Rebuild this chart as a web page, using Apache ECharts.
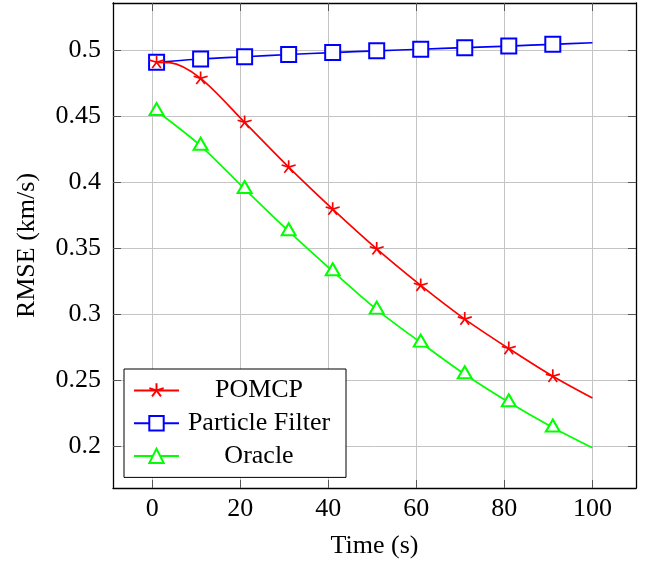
<!DOCTYPE html>
<html><head><meta charset="utf-8">
<script src="https://cdn.jsdelivr.net/npm/echarts@6/dist/echarts.min.js"></script>
<style>html,body{margin:0;padding:0;background:#fff}#c{width:647px;height:561px}</style>
</head><body><div id="c"></div>
<script>
const xTicks = [0, 20, 40, 60, 80, 100];
const yTicks = [0.2, 0.25, 0.3, 0.35, 0.4, 0.45, 0.5];
const markerX = [1, 11, 21, 31, 41, 51, 61, 71, 81, 91];
const pomcpX = [1, 4, 11, 21, 31, 41, 51, 61, 71, 81, 91, 100];
const pomcpY = [0.4907, 0.4904, 0.4785, 0.4452, 0.4113, 0.3795, 0.3494, 0.3218, 0.2963, 0.2740, 0.2530, 0.2365];
const pfX = [1, 11, 21, 31, 41, 51, 61, 71, 81, 91, 100];
const pfY = [0.4907, 0.4932, 0.4949, 0.4966, 0.4981, 0.4994, 0.5006, 0.5018, 0.5030, 0.5043, 0.5055];
const oracleX = [1, 11, 21, 31, 41, 51, 61, 71, 81, 91, 100];
const oracleY = [0.4538, 0.4275, 0.3948, 0.3628, 0.3325, 0.3035, 0.2785, 0.2545, 0.2333, 0.2142, 0.1988];

const FONT = 'Liberation Serif';
const FS = 26;
const starPath = 'path://M0,0L0,-1M0,0L0.951,-0.309M0,0L-0.951,-0.309M0,0L-0.588,0.809M0,0L0.588,0.809M0,1M0,-1';

function build(xs, ys) {
  return xs.map((x, i) => markerX.indexOf(x) >= 0 ? [x, ys[i]] : { value: [x, ys[i]], symbol: 'none' });
}

const chart = echarts.init(document.getElementById('c'), null, { renderer: 'canvas' });
const tickStyle = { show: true, inside: true, length: 8, lineStyle: { color: '#555', width: 1 } };
const lineAxis = { show: true, onZero: false, lineStyle: { color: '#000', width: 1.3 } };

chart.setOption({
  animation: false,
  backgroundColor: '#fff',
  grid: { left: 113, top: 3, right: 11, bottom: 73, containLabel: false, outerBoundsMode: 'none' },
  xAxis: [{
    type: 'value', min: -8.9, max: 109.9, position: 'bottom',
    name: 'Time (s)', nameLocation: 'middle', nameGap: 45,
    nameTextStyle: { fontFamily: FONT, fontSize: FS, color: '#000' },
    axisLine: lineAxis,
    axisTick: Object.assign({ customValues: xTicks }, tickStyle),
    axisLabel: { customValues: xTicks, margin: 8, fontFamily: FONT, fontSize: FS, color: '#000' },
    splitLine: { show: true, lineStyle: { color: '#c4c4c4', width: 1 } }
  }, {
    type: 'value', min: -8.9, max: 109.9, position: 'top',
    axisLine: lineAxis,
    axisTick: Object.assign({ customValues: xTicks }, tickStyle),
    axisLabel: { show: false },
    splitLine: { show: false }
  }],
  yAxis: [{
    type: 'value', min: 0.1684, max: 0.5356, position: 'left',
    name: 'RMSE (km/s)', nameLocation: 'middle', nameGap: 73,
    nameTextStyle: { fontFamily: FONT, fontSize: FS, color: '#000' },
    axisLine: lineAxis,
    axisTick: Object.assign({ customValues: yTicks }, tickStyle),
    axisLabel: { customValues: yTicks, margin: 12, fontFamily: FONT, fontSize: FS, color: '#000',
      formatter: v => String(+(+v).toFixed(2)) },
    splitLine: { show: true, lineStyle: { color: '#c4c4c4', width: 1 } }
  }, {
    type: 'value', min: 0.1684, max: 0.5356, position: 'right',
    axisLine: lineAxis,
    axisTick: Object.assign({ customValues: yTicks }, tickStyle),
    axisLabel: { show: false },
    splitLine: { show: false }
  }],
  legend: {
    orient: 'vertical', left: 124, top: 369,
    padding: [8.5, 12, 8.5, 9],
    itemGap: 6.7, itemWidth: 45, itemHeight: 18,
    backgroundColor: '#fff', borderColor: '#000', borderWidth: 1, borderRadius: 0,
    formatter: n => '{t|' + n + '}',
    textStyle: { fontFamily: FONT, fontSize: FS, color: '#000',
      rich: { t: { width: 150, align: 'center', fontFamily: FONT, fontSize: FS, color: '#000', lineHeight: 26 } } },
    data: ['POMCP', 'Particle Filter', 'Oracle']
  },
  series: [{
    name: 'POMCP', type: 'line', smooth: 0.3,
    data: build(pomcpX, pomcpY),
    symbol: starPath, symbolSize: 14, showAllSymbol: true,
    lineStyle: { color: '#ff0000', width: 1.7 },
    itemStyle: { color: '#ff0000', borderColor: '#ff0000', borderWidth: 1.7 },
    z: 3
  }, {
    name: 'Particle Filter', type: 'line', smooth: 0.3,
    data: build(pfX, pfY),
    symbol: 'emptyRect', symbolSize: 15, showAllSymbol: true,
    lineStyle: { color: '#0000ff', width: 1.7 },
    itemStyle: { color: '#0000ff', borderColor: '#0000ff', borderWidth: 1.7 },
    z: 2
  }, {
    name: 'Oracle', type: 'line', smooth: 0.3,
    data: build(oracleX, oracleY),
    symbol: 'emptyTriangle', symbolSize: [14, 12], symbolOffset: [0, -2], showAllSymbol: true,
    lineStyle: { color: '#00ff00', width: 1.7 },
    itemStyle: { color: '#00ff00', borderColor: '#00ff00', borderWidth: 1.7 },
    z: 2
  }]
});
</script></body></html>
